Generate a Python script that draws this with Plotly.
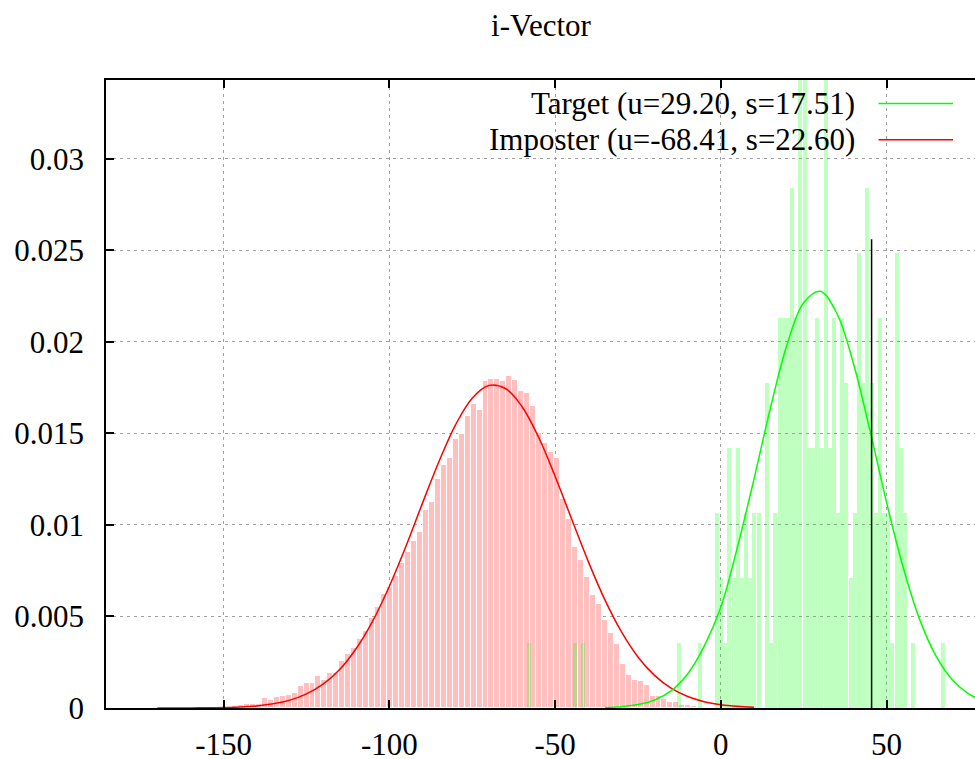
import plotly.graph_objects as go

# ---------------- data ----------------
title_text = "i-Vector"
legend_labels = ["Target (u=29.20, s=17.51)", "Imposter (u=-68.41, s=22.60)"]

# Imposter histogram (bin centres, density)
red_x = [-170.0, -168.2, -166.4, -164.6, -162.8, -161.0, -159.2, -157.4, -155.6, -153.8,
         -152.0, -150.2, -148.4, -146.6, -144.8, -143.0, -141.2, -139.4, -137.6, -135.8,
         -134.0, -132.2, -130.4, -128.6, -126.8, -125.0, -123.2, -121.4, -119.6, -117.8,
         -116.0, -114.2, -112.4, -110.6, -108.8, -107.0, -105.2, -103.4, -101.6, -99.8,
         -98.0, -96.2, -94.4, -92.6, -90.8, -89.0, -87.2, -85.4, -83.6, -81.8,
         -80.0, -78.2, -76.4, -74.6, -72.8, -71.0, -69.2, -67.4, -65.6, -63.8,
         -62.0, -60.2, -58.4, -56.6, -54.8, -53.0, -51.2, -49.4, -47.6, -45.8,
         -44.0, -42.2, -40.4, -38.6, -36.8, -35.0, -33.2, -31.4, -29.6, -27.8,
         -26.0, -24.2, -22.4, -20.6, -18.8, -17.0, -15.2, -13.4, -11.6, -9.8,
         -8.0, -6.2, -4.4, -2.6, -0.8, 1.0, 2.8, 4.6, 6.4, 8.2]
red_y = [0.00008, 0, 0, 0, 0, 0, 0.00008, 0, 0.00008, 0.00008,
         0.00008, 0, 0, 0.00012, 0.00015, 0.00024, 0.00024, 0.00024, 0.00055, 0.00046,
         0.00060, 0.00064, 0.00073, 0.00082, 0.00119, 0.00137, 0.00137, 0.00173, 0.00151, 0.00191,
         0.00192, 0.00257, 0.00293, 0.00330, 0.00377, 0.00420, 0.00490, 0.00550, 0.00620, 0.00660,
         0.00720, 0.00790, 0.00850, 0.00910, 0.00962, 0.01080, 0.01126, 0.01253, 0.01326, 0.01368,
         0.01467, 0.01499, 0.01596, 0.01663, 0.01627, 0.01787, 0.01796, 0.01796, 0.01787, 0.01814,
         0.01790, 0.01732, 0.01723, 0.01650, 0.01503, 0.01448, 0.01400, 0.01366, 0.01144, 0.01035,
         0.00880, 0.00807, 0.00716, 0.00616, 0.00570, 0.00479, 0.00407, 0.00352, 0.00243, 0.00179,
         0.00151, 0.00150, 0.00124, 0.00064, 0.00064, 0.00051, 0.00033, 0.00035, 0.00015, 0.00015,
         0.00010, 0.00008, 0.00008, 0.00008, 0, 0.00008, 0.00008, 0, 0.00008, 0.00008]

# Target histogram (bin centres, density)
green_x = [-58.0, -44.12, -41.59, -12.57, -6.26, -1.21, 0.05, 1.31, 2.58, 3.84,
           5.10, 6.36, 7.62, 8.89, 10.15, 11.41, 13.93, 15.20, 16.46, 17.72,
           18.98, 20.24, 21.51, 22.77, 24.03, 25.29, 26.55, 27.82, 29.08, 30.34,
           31.60, 32.86, 34.13, 35.39, 36.65, 37.91, 39.17, 40.44, 41.70, 42.96,
           44.22, 45.48, 46.75, 48.01, 49.27, 50.53, 51.79, 53.06, 54.32, 55.58,
           58.10, 66.94]
green_y = [0.00355, 0.00355, 0.00355, 0.00355, 0.00355, 0.01065, 0.0071, 0.00355, 0.0142, 0.0071,
           0.0142, 0.0071, 0.01065, 0.0071, 0.01065, 0.01065, 0.01775, 0.00355, 0.01065, 0.0213,
           0.0213, 0.0213, 0.0284, 0.0213, 0.03905, 0.03905, 0.0142, 0.0142, 0.0213, 0.0142,
           0.03905, 0.0142, 0.0213, 0.01065, 0.0213, 0.01775, 0.0071, 0.01065, 0.02485, 0.01775,
           0.0284, 0.01775, 0.01065, 0.0213, 0.01065, 0.01065, 0.00355, 0.02485, 0.0142, 0.01065,
           0.00355, 0.00355]

# Fitted density curves
red_curve_x = [-170, -165, -160, -155, -150, -145, -140, -135, -130, -125, -120, -115,
               -110, -105, -100, -95, -90, -85, -80, -75, -70, -65, -60, -55, -50, -45,
               -40, -35, -30, -25, -20, -15, -10, -5, 0, 5, 10]
red_curve_y = [0.000001, 0.000002, 0.000005, 0.000011, 0.000026, 0.000057, 0.000116, 0.00023,
               0.00043, 0.00077, 0.0013, 0.0021, 0.00325, 0.00476, 0.00665, 0.00883, 0.01119,
               0.01348, 0.01548, 0.01692, 0.01761, 0.01745, 0.01647, 0.0148, 0.01266, 0.01032,
               0.00801, 0.00592, 0.00417, 0.00279, 0.00178, 0.00108, 0.000625, 0.000344,
               0.000181, 0.00009, 0.000043]
green_curve_x = [-35, -30, -25, -20, -15, -10, -5, 0, 5, 10, 15, 20, 25, 30, 35, 40, 45,
                 50, 55, 60, 65, 70, 75, 80]
green_curve_y = [0.0000275, 0.000075, 0.000189, 0.00044, 0.00094, 0.00186, 0.00338, 0.00550,
                 0.00877, 0.01249, 0.0164, 0.01985, 0.02213, 0.02276, 0.02156, 0.01883, 0.01516,
                 0.01125, 0.0077, 0.00484, 0.00282, 0.00151, 0.000745, 0.000338]

# threshold marker
thr_x = [45.5, 45.5]
thr_y = [0, 0.0256]

x_ticks = [-150, -100, -50, 0, 50]
x_tick_labels = ["-150", "-100", "-50", "0", "50"]
y_ticks = [0, 0.005, 0.01, 0.015, 0.02, 0.025, 0.03]
y_tick_labels = ["0", "0.005", "0.01", "0.015", "0.02", "0.025", "0.03"]

# ---------------- figure ----------------
FONT = "Liberation Serif"
FS = 31

fig = go.Figure()
fig.add_trace(go.Bar(x=red_x, y=red_y, width=1.8,
                     marker=dict(color="#ffbfbf", line=dict(color="white", width=1)),
                     showlegend=False, hoverinfo="skip"))
fig.add_trace(go.Bar(x=green_x, y=green_y, width=1.2,
                     marker=dict(color="rgba(0,255,0,0.25)", line=dict(width=0)),
                     showlegend=False, hoverinfo="skip"))
fig.add_trace(go.Scatter(x=red_curve_x, y=red_curve_y, mode="lines",
                         line=dict(color="#ff0000", width=1.5, shape="spline"),
                         showlegend=False))
fig.add_trace(go.Scatter(x=green_curve_x, y=green_curve_y, mode="lines",
                         line=dict(color="#00ff00", width=1.5, shape="spline"),
                         showlegend=False))
fig.add_trace(go.Scatter(x=thr_x, y=thr_y, mode="lines",
                         line=dict(color="black", width=1.5), showlegend=False))

# gnuplot-style legend: text right-aligned, sample line to its right
legend_colors = ["#00ff00", "#ff0000"]
legend_rows_y = [0.9625, 0.905]
annotations = []
shapes = []
for lab, col, yy in zip(legend_labels, legend_colors, legend_rows_y):
    annotations.append(dict(text=lab, xref="paper", yref="paper", x=0.8645, y=yy,
                            xanchor="right", yanchor="middle", showarrow=False,
                            font=dict(family=FONT, size=FS, color="black")))
    shapes.append(dict(type="line", xref="paper", yref="paper", x0=0.889, x1=0.9747,
                       y0=yy, y1=yy, line=dict(color=col, width=1.5)))

axis_common = dict(
    showline=True, linecolor="black", linewidth=1.5,
    ticks="inside", ticklen=8, tickwidth=1.5, tickcolor="black",
    showgrid=True, gridcolor="#a0a0a0", gridwidth=1, griddash="3px,4px",
    zeroline=False, automargin=False,
    tickfont=dict(family=FONT, size=FS, color="black"),
)

fig.update_layout(
    width=975, height=759,
    margin=dict(l=106, r=0, t=80, b=51),
    paper_bgcolor="white", plot_bgcolor="white",
    barmode="overlay", bargap=0,
    title=dict(text=title_text, x=541 / 975, xanchor="center", xref="container",
               y=1 - 25.5 / 759, yanchor="middle", yref="container",
               font=dict(family=FONT, size=FS, color="black"), automargin=False),
    xaxis=dict(range=[-185.5, 76.7], tickvals=x_ticks, ticktext=x_tick_labels,
               mirror="ticks", ticklabelstandoff=8, **axis_common),
    yaxis=dict(range=[0, 0.0343], tickvals=y_ticks, ticktext=y_tick_labels,
               mirror=False, ticklabelstandoff=14, **axis_common),
    annotations=annotations, shapes=shapes,
    showlegend=False,
)

fig.write_html(
    "out.html",
    config={"displayModeBar": False},
    post_script="document.body.style.margin='0';"
                "document.documentElement.style.overflow='hidden';",
)
